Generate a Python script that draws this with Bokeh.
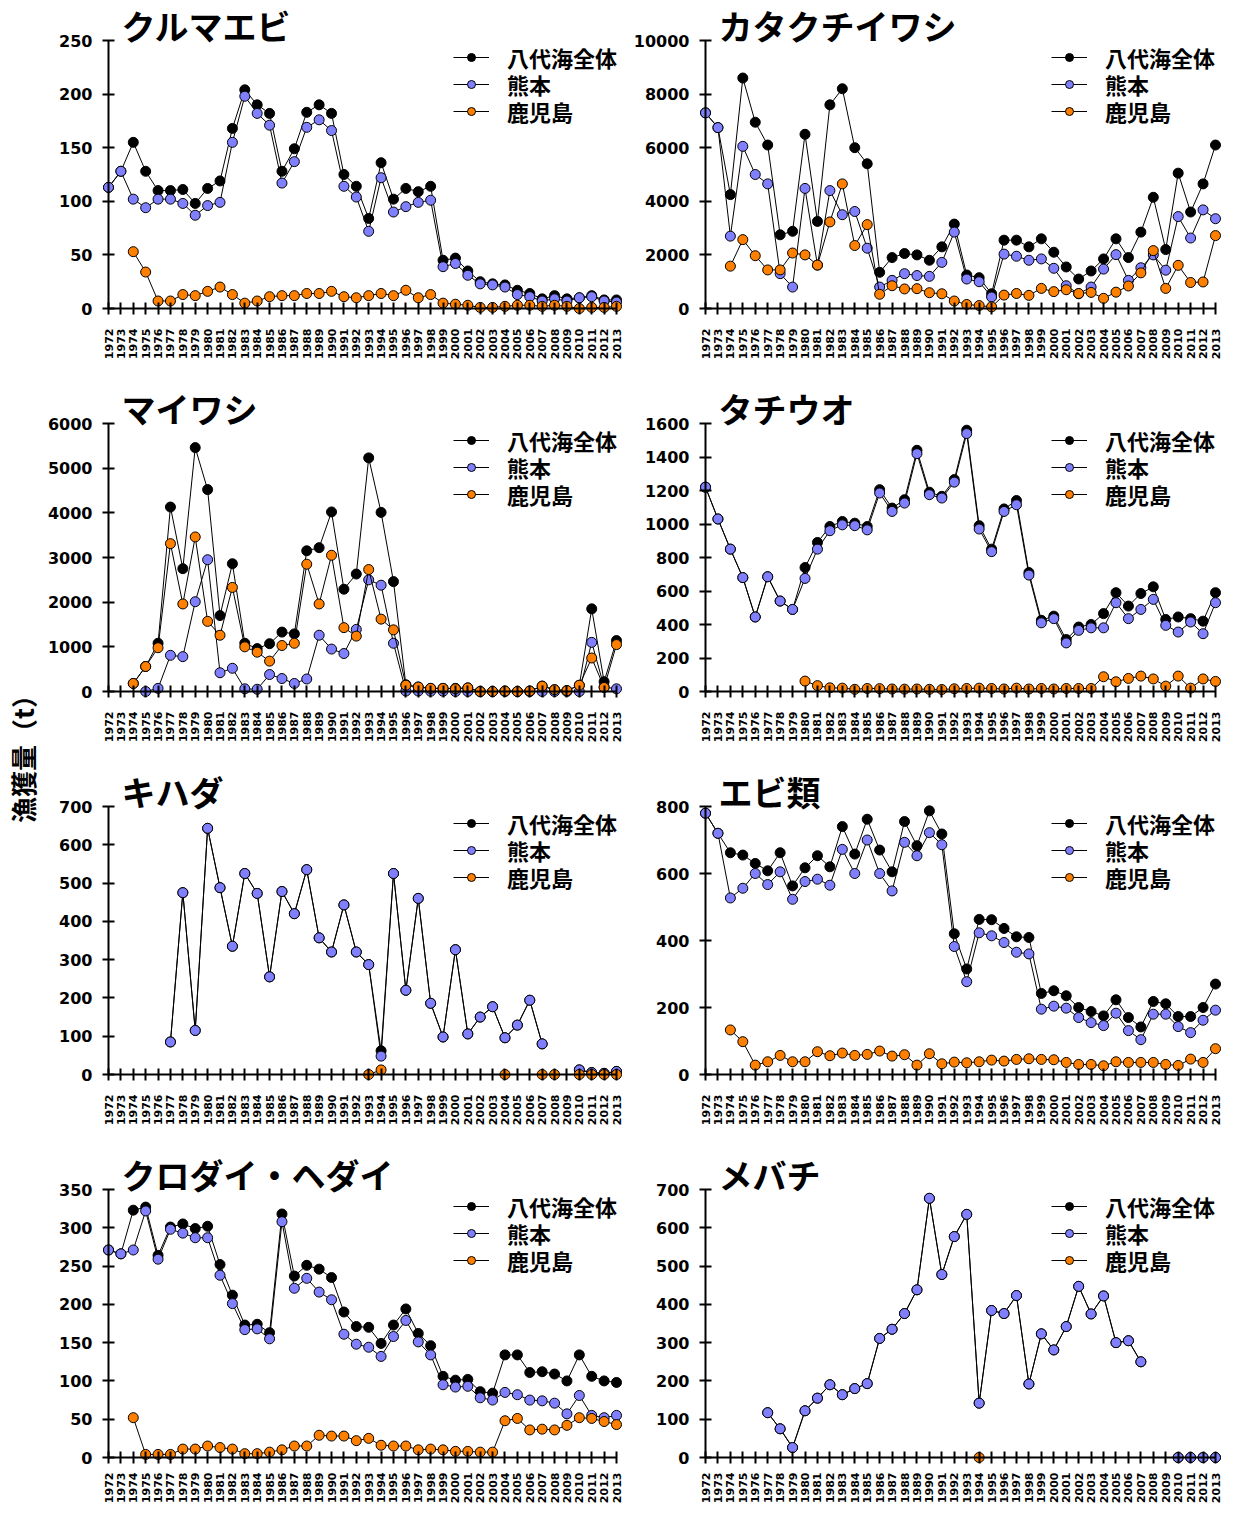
import numpy as np
from math import pi
from bokeh.plotting import figure
from bokeh.models import ColumnDataSource, Range1d, FixedTicker, Label, Legend, LegendItem
from bokeh.layouts import row, column
from bokeh.embed import file_html
from bokeh.resources import INLINE

N = None
years = list(range(1972, 2014))
series_names = ["八代海全体", "熊本", "鹿児島"]
series_colors = ["#000000", "#8080FF", "#FF8000"]
y_axis_title = "漁獲量（t）"

# ---- クルマエビ ----
kuruma_title = "クルマエビ"
kuruma_yticks = [0, 50, 100, 150, 200, 250]
kuruma_total = [113, 128, 155, 128, 110, 110, 111, 98, 112, 119, 168, 204, 190, 182, 128, 149, 183, 190, 182, 125,
                114, 84, 136, 102, 112, 109, 114, 45, 47, 35, 25, 23, 22, 17, 14, 9, 12, 9, 10, 12, 8, 8]
kuruma_kumamoto = [113, 128, 102, 94, 102, 102, 98, 87, 96, 99, 155, 198, 182, 171, 117, 137, 169, 176, 166, 114,
                   104, 72, 122, 90, 95, 99, 101, 39, 42, 31, 23, 22, 20, 13, 11, 7, 9, 7, 10, 11, 7, 6]
kuruma_kagoshima = [N, N, 53, 34, 7, 7, 13, 12, 16, 20, 13, 5, 7, 11, 12, 12, 14, 14, 16, 11,
                    10, 12, 14, 12, 17, 10, 13, 5, 4, 3, 1, 1, 2, 3, 3, 2, 3, 2, 0, 1, 1, 2]

# ---- カタクチイワシ ----
kata_title = "カタクチイワシ"
kata_yticks = [0, 2000, 4000, 6000, 8000, 10000]
kata_total = [7300, 6750, 4250, 8600, 6950, 6100, 2750, 2880, 6500, 3250, 7600, 8200, 6000, 5400, 1350, 1900,
              2050, 2000, 1800, 2300, 3150, 1250, 1150, 550, 2550, 2550, 2300, 2600, 2100, 1550, 1100, 1400,
              1850, 2600, 1900, 2850, 4150, 2200, 5050, 3600, 4650, 6100]
kata_kumamoto = [7300, 6750, 2700, 6050, 5000, 4650, 1300, 800, 4480, 1620, 4400, 3500, 3620, 2250, 800, 1050,
                 1300, 1230, 1200, 1720, 2850, 1100, 1000, 430, 2030, 1950, 1800, 1850, 1500, 850, 550, 800,
                 1470, 2010, 1050, 1520, 2000, 1430, 3430, 2630, 3680, 3350]
kata_kagoshima = [N, N, 1580, 2570, 1970, 1440, 1440, 2070, 2000, 1620, 3230, 4650, 2350, 3130, 530, 850,
                  730, 740, 590, 550, 280, 150, 110, 60, 500, 560, 490, 750, 630, 700, 560, 600,
                  380, 610, 840, 1330, 2160, 750, 1610, 970, 990, 2720]

# ---- マイワシ ----
mai_title = "マイワシ"
mai_yticks = [0, 1000, 2000, 3000, 4000, 5000, 6000]
mai_total = [N, N, 180, 560, 1080, 4130, 2750, 5460, 4520, 1700, 2860, 1080, 960, 1070, 1330, 1290, 3150, 3220,
             4020, 2290, 2630, 5230, 4010, 2460, 150, 100, 70, 70, 70, 80, 0, 0, 10, 0, 10, 120, 40, 20, 140,
             1850, 220, 1140]
mai_kumamoto = [N, N, N, 0, 70, 810, 780, 2010, 2950, 420, 520, 60, 50, 380, 290, 180, 280, 1260,
                950, 850, 1390, 2500, 2380, 1080, 10, 10, 5, 5, 0, 0, 0, 0, 0, 0, 0, 0, 0, 0, 0,
                1100, 100, 60]
mai_kagoshima = [N, N, 180, 560, 980, 3310, 1960, 3460, 1570, 1260, 2330, 1000, 880, 680, 1030, 1080, 2850, 1960,
                 3050, 1430, 1240, 2730, 1620, 1380, 140, 100, 70, 70, 60, 80, 0, 0, 10, 0, 10, 120, 40, 20, 140,
                 750, 90, 1050]

# ---- タチウオ ----
tachi_title = "タチウオ"
tachi_yticks = [0, 200, 400, 600, 800, 1000, 1200, 1400, 1600]
tachi_total = [1220, 1030, 850, 680, 445, 685, 540, 490, 740, 890, 985, 1015, 1005, 985, 1205, 1095, 1145, 1440,
               1190, 1165, 1265, 1560, 990, 850, 1090, 1140, 710, 425, 450, 310, 385, 400, 465, 590, 510, 585,
               625, 430, 445, 435, 420, 590]
tachi_kumamoto = [1220, 1030, 850, 680, 445, 685, 540, 490, 675, 850, 960, 995, 990, 965, 1185, 1075, 1125, 1420,
                  1175, 1155, 1250, 1540, 970, 835, 1075, 1115, 695, 410, 435, 290, 365, 380, 380, 530, 435, 490,
                  550, 395, 355, 415, 345, 530]
tachi_kagoshima = [N, N, N, N, N, N, N, N, 62, 35, 22, 20, 13, 18, 17, 15, 14, 15,
                   13, 12, 16, 18, 20, 18, 15, 20, 15, 18, 15, 18, 18, 18, 88, 58, 78, 92,
                   75, 32, 92, 20, 75, 60]

# ---- キハダ ----
kihada_title = "キハダ"
kihada_yticks = [0, 100, 200, 300, 400, 500, 600, 700]
kihada_total = [N, N, N, N, N, 85, 475, 115, 643, 488, 335, 525, 473, 255, 478, 420, 535, 357, 320, 443,
                320, 287, 62, 525, 220, 460, 186, 98, 326, 106, 150, 177, 96, 129, 194, 80, N, N, 12, 5, 3, 8]
kihada_kumamoto = [N, N, N, N, N, 85, 475, 115, 643, 488, 335, 525, 473, 255, 478, 420, 535, 357, 320, 443,
                   320, 287, 48, 525, 220, 460, 186, 98, 326, 106, 150, 177, 96, 129, 194, 80, N, N, 12, 5, 3, 8]
kihada_kagoshima = [N, N, N, N, N, N, N, N, N, N, N, N, N, N, N, N, N, N, N, N,
                    N, 0, 12, N, N, N, N, N, N, N, N, N, 0, N, N, 0, 0, N, 0, 0, 0, 0]

# ---- エビ類 ----
ebi_title = "エビ類"
ebi_yticks = [0, 200, 400, 600, 800]
ebi_total = [780, 720, 662, 655, 630, 608, 662, 563, 617, 653, 620, 740, 658, 762, 670, 605, 755, 683, 787, 718,
             420, 315, 463, 462, 436, 411, 409, 242, 250, 235, 200, 188, 175, 223, 170, 142, 218, 211, 173, 173,
             200, 270]
ebi_kumamoto = [780, 720, 527, 556, 600, 567, 605, 523, 576, 583, 565, 672, 600, 700, 600, 548, 693, 653, 722, 686,
                382, 277, 423, 414, 394, 365, 360, 195, 204, 198, 170, 155, 146, 183, 131, 104, 180, 180, 143, 125,
                162, 192]
ebi_kagoshima = [N, N, 133, 98, 28, 38, 57, 38, 38, 68, 56, 64, 57, 60, 70, 55, 59, 28, 62, 32,
                 37, 35, 38, 43, 40, 45, 47, 45, 44, 36, 30, 30, 26, 38, 36, 36, 36, 30, 27, 46, 36, 77]

# ---- クロダイ・ヘダイ ----
kuro_title = "クロダイ・ヘダイ"
kuro_yticks = [0, 50, 100, 150, 200, 250, 300, 350]
kuro_total = [271, 266, 323, 327, 264, 301, 305, 299, 302, 252, 212, 173, 174, 163, 318, 237, 251, 246, 235, 190,
              171, 170, 149, 173, 194, 162, 146, 106, 101, 102, 86, 84, 134, 134, 111, 112, 109, 100, 134, 106,
              100, 98]
kuro_kumamoto = [271, 266, 271, 322, 259, 298, 293, 287, 287, 238, 201, 167, 168, 155, 308, 221, 234, 216, 206, 161,
                 148, 144, 132, 158, 179, 151, 134, 95, 92, 93, 78, 75, 85, 82, 75, 74, 71, 57, 81, 55, 52, 55]
kuro_kagoshima = [N, N, 52, 4, 4, 4, 11, 11, 15, 13, 11, 5, 5, 7, 10, 15, 15, 29, 28, 28,
                  22, 25, 16, 15, 15, 10, 11, 10, 8, 8, 7, 7, 48, 51, 36, 37, 36, 42, 52, 51, 47, 43]

# ---- メバチ ----
meba_title = "メバチ"
meba_yticks = [0, 100, 200, 300, 400, 500, 600, 700]
meba_total = [N, N, N, N, N, 117, 75, 26, 122, 155, 190, 164, 180, 193, 311, 335, 376, 438, 677, 478,
              577, 635, 142, 384, 376, 423, 192, 323, 281, 342, 447, 375, 422, 300, 305, 250, N, N, 0, 0, 0, 0]
meba_kumamoto = [N, N, N, N, N, 117, 75, 26, 122, 155, 190, 164, 180, 193, 311, 335, 376, 438, 677, 478,
                 577, 635, 142, 384, 376, 423, 192, 323, 281, 342, 447, 375, 422, 300, 305, 250, N, N, 0, 0, 0, 0]
meba_kagoshima = [N, N, N, N, N, N, N, N, N, N, N, N, N, N, N, N, N, N, N, N,
                  N, N, 0, N, N, N, N, N, N, N, N, N, N, N, N, N, N, N, N, N, N, N]

panels = [
    (kuruma_title, kuruma_yticks, kuruma_total, kuruma_kumamoto, kuruma_kagoshima),
    (kata_title, kata_yticks, kata_total, kata_kumamoto, kata_kagoshima),
    (mai_title, mai_yticks, mai_total, mai_kumamoto, mai_kagoshima),
    (tachi_title, tachi_yticks, tachi_total, tachi_kumamoto, tachi_kagoshima),
    (kihada_title, kihada_yticks, kihada_total, kihada_kumamoto, kihada_kagoshima),
    (ebi_title, ebi_yticks, ebi_total, ebi_kumamoto, ebi_kagoshima),
    (kuro_title, kuro_yticks, kuro_total, kuro_kumamoto, kuro_kagoshima),
    (meba_title, meba_yticks, meba_total, meba_kumamoto, meba_kagoshima),
]

JP = "Noto Sans CJK JP"
NUM = "DejaVu Sans"

# layout geometry (pixels)
LAB_W = 40
COL_W = [588, 597]          # figure widths of the two columns
AXIS_X = [68, 77]           # y-axis position inside each figure
PLOT_W = [508, 510]         # 1972 -> 2013 width
ROW_HS = [379, 383, 383, 359]
ROW_TOP = [40, 44, 44, 44]  # top tick position inside each row's figure
PLOT_H = 268                # zero -> top tick
TITLE_Y = [24.5, 28.5, 28.5, 28.5]
LEG_Y = [49, 53, 53, 53]


def arr(v):
    return np.array([np.nan if x is None else float(x) for x in v])


def make_panel(idx, title, yticks, total, kuma, kago):
    col = idx % 2
    rw = idx // 2
    last = rw == 3
    H = ROW_HS[rw]
    W = COL_W[col]
    ymax = yticks[-1]
    ppy = PLOT_W[col] / (years[-1] - years[0])
    x0 = years[0] - AXIS_X[col] / ppy
    x1 = x0 + W / ppy
    ppu = PLOT_H / ymax
    y1 = ymax + ROW_TOP[rw] / ppu
    y0 = y1 - H / ppu

    p = figure(
        frame_width=W, frame_height=H, min_border=0,
        x_range=Range1d(x0, x1), y_range=Range1d(y0, y1),
        toolbar_location=None, output_backend="svg",
    )
    p.outline_line_color = None
    p.xgrid.visible = False
    p.ygrid.visible = False

    for ax in (p.xaxis[0], p.yaxis[0]):
        ax.axis_line_width = 2
        ax.axis_line_color = "black"
        ax.major_tick_line_width = 2
        ax.major_tick_line_color = "black"
        ax.major_tick_in = 6
        ax.major_tick_out = 6
        ax.minor_tick_line_color = None
        ax.major_label_text_font = NUM
        ax.major_label_text_font_style = "bold"
        ax.major_label_text_color = "black"

    xa = p.xaxis[0]
    xa.ticker = FixedTicker(ticks=years)
    xa.fixed_location = 0
    xa.bounds = (years[0], years[-1])
    xa.major_label_orientation = pi / 2
    xa.major_label_text_font_size = "11px"
    xa.major_label_standoff = 9 if last else 14

    ya = p.yaxis[0]
    ya.ticker = FixedTicker(ticks=yticks)
    ya.fixed_location = years[0]
    ya.bounds = (0, ymax)
    ya.major_label_text_font_size = "16px"
    ya.major_label_standoff = 10

    src = ColumnDataSource(dict(year=years, total=arr(total), kuma=arr(kuma), kago=arr(kago)))
    items = []
    for key, name, color in zip(["total", "kuma", "kago"], series_names, series_colors):
        lr = p.line("year", key, source=src, line_color="black", line_width=1)
        sr = p.scatter("year", key, source=src, size=10, fill_color=color, line_color="black", line_width=1)
        items.append((name, [lr, sr]))

    leg_x = [413, 423][col]
    for i, (name, rends) in enumerate(items):
        lg = Legend(items=[LegendItem(label=name, renderers=rends)],
                    location=(leg_x, H - LEG_Y[rw] - 24 - 27 * i),
                    border_line_color=None, background_fill_alpha=0, padding=0, margin=0,
                    glyph_width=36, glyph_height=20, label_standoff=18, label_height=20,
                    label_text_font=JP, label_text_font_style="bold", label_text_font_size="22px",
                    label_text_color="black")
        p.add_layout(lg)

    p.add_layout(Label(x=AXIS_X[col] + 13, y=H - TITLE_Y[rw], x_units="screen", y_units="screen", text=title,
                       text_font=JP, text_font_style="bold", text_font_size="34px",
                       text_align="left", text_baseline="middle", text_color="black"))
    return p


figs = [make_panel(i, *pp) for i, pp in enumerate(panels)]

TOTAL_H = sum(ROW_HS)
lab = figure(width=LAB_W, height=TOTAL_H, min_border=0, x_range=(0, 1), y_range=(0, 1),
             x_axis_type=None, toolbar_location=None, output_backend="svg")
lab.outline_line_color = None
lab.xgrid.visible = False
lab.ygrid.visible = False
lya = lab.yaxis[0]
lya.ticker = FixedTicker(ticks=[])
lya.axis_line_color = None
lya.major_tick_line_color = None
lya.minor_tick_line_color = None
lya.major_label_text_font_size = "0px"
lya.axis_label = y_axis_title
lya.axis_label_standoff = 0
lya.axis_label_text_font = JP
lya.axis_label_text_font_style = "bold"
lya.axis_label_text_font_size = "26px"
lya.axis_label_text_color = "black"

grid = column(*[row(figs[2 * r], figs[2 * r + 1]) for r in range(4)])
layout = row(lab, grid)

open("out.html", "w").write(file_html(layout, INLINE))
